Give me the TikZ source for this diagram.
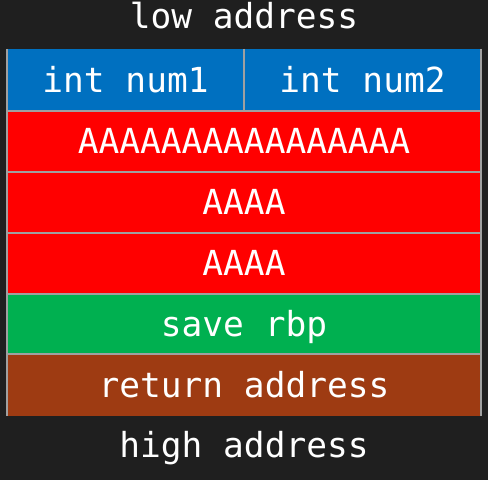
\documentclass[tikz,border=0pt]{standalone}
\usepackage{fontspec}
\setmonofont{DejaVu Sans Mono}
\definecolor{bg}{HTML}{1F1F1F}
\definecolor{cblue}{HTML}{0070C0}
\definecolor{cred}{HTML}{FF0000}
\definecolor{cgreen}{HTML}{00B050}
\definecolor{cbrown}{HTML}{9E3B12}
\definecolor{cgrid}{HTML}{A0A0A0}
\begin{document}
\begin{tikzpicture}[x=1pt,y=-1pt,
  txt/.style={inner sep=0pt, text=white, font=\ttfamily\fontsize{34.5}{41}\selectfont, text height=24pt, text depth=0pt},
  cell/.style={txt, rectangle, minimum width=474pt},
  half/.style={txt, rectangle, minimum width=237pt},
  sep/.style={draw=cgrid, line width=2pt}]
\fill[bg] (0,0) rectangle (488,480);
\useasboundingbox (0,0) rectangle (488,480);
\node[txt] (lo) at (244,16) {low address};
\node[half, fill=cblue, minimum height=62pt] (n1) at (125.5,80) {int num1};
\node[half, fill=cblue, minimum height=62pt] (n2) at (362.5,80) {int num2};
\node[cell, fill=cred, minimum height=61pt] (r1) at (244,141.5) {AAAAAAAAAAAAAAAA};
\node[cell, fill=cred, minimum height=61pt] (r2) at (244,202.5) {AAAA};
\node[cell, fill=cred, minimum height=61pt] (r3) at (244,263.5) {AAAA};
\node[cell, fill=cgreen, minimum height=60.5pt] (r4) at (244,324.25) {save rbp};
\node[cell, fill=cbrown, minimum height=61.5pt] (r5) at (244,385.25) {return address};
\node[txt] (hi) at (244,445) {high address};
\draw[sep] (n1.north west) -- (r5.south west);
\draw[sep] (n2.north east) -- (r5.south east);
\draw[sep] (n1.north east) -- (n1.south east);
\draw[sep] (r1.north west) -- (r1.north east);
\draw[sep] (r2.north west) -- (r2.north east);
\draw[sep] (r3.north west) -- (r3.north east);
\draw[sep] (r4.north west) -- (r4.north east);
\draw[sep] (r5.north west) -- (r5.north east);
\end{tikzpicture}
\end{document}
